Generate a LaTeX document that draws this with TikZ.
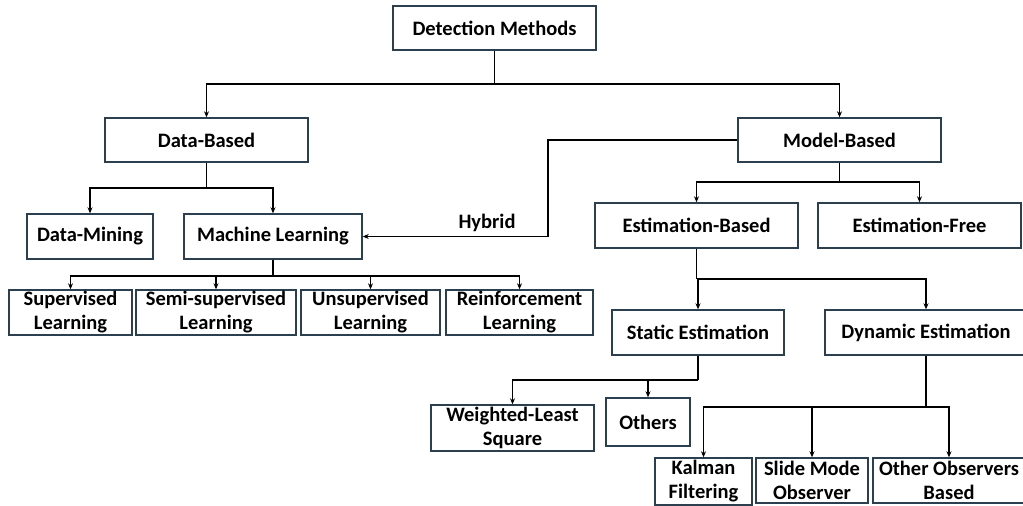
\documentclass[tikz,border=0pt]{standalone}
\usepackage{fontspec}
\setmainfont{Carlito}
\usetikzlibrary{arrows.meta}
\definecolor{boxline}{HTML}{2B3F4E}
\begin{document}
\begin{tikzpicture}[x=1pt,y=-1pt,
  lbl/.style={font=\fontsize{20.5}{24}\selectfont\bfseries},
  box/.style={lbl, draw=boxline, line width=1.4pt, fill=white, inner sep=0pt, align=center},
  conn/.style={line width=1.3pt, black},
  arr/.style={conn, -{Stealth[length=6pt,width=5pt]}}]
\useasboundingbox (0,0) rectangle (1023,506);
\fill[white] (0,0) rectangle (1023,506);
% boxes (center, width, height)
\node[box, minimum width=203pt, minimum height=44pt] (dm) at (494.5,28) {Detection Methods};
\node[box, minimum width=203pt, minimum height=44pt] (db) at (206.5,140) {Data-Based};
\node[box, minimum width=203pt, minimum height=44pt] (mb) at (839.5,140) {Model-Based};
\node[box, minimum width=126pt, minimum height=45pt] (dmin) at (90,236.5) {Data-Mining};
\node[box, minimum width=178pt, minimum height=45pt] (ml) at (273,236.5) {Machine Learning};
\node[box, minimum width=123pt, minimum height=45pt] (sl) at (70.5,312.5) {Supervised\\Learning};
\node[box, minimum width=160pt, minimum height=45pt] (ssl) at (216,312.5) {Semi-supervised\\Learning};
\node[box, minimum width=139pt, minimum height=45pt] (ul) at (370.5,312.5) {Unsupervised\\Learning};
\node[box, minimum width=147pt, minimum height=45pt] (rl) at (519.5,312.5) {Reinforcement\\Learning};
\node[box, minimum width=203pt, minimum height=45pt] (eb) at (696.5,225.5) {Estimation-Based};
\node[box, minimum width=203pt, minimum height=45pt] (ef) at (919.5,225.5) {Estimation-Free};
\node[box, minimum width=172pt, minimum height=45pt] (se) at (698,332.5) {Static Estimation};
\node[box, minimum width=202pt, minimum height=45pt] (de) at (926,332.5) {Dynamic Estimation};
\node[box, minimum width=163pt, minimum height=46pt] (wls) at (512.5,428) {Weighted-Least\\Square};
\node[box, minimum width=84pt, minimum height=48pt] (oth) at (648,422) {Others};
\node[box, minimum width=97pt, minimum height=47pt] (kf) at (703.5,481.5) {Kalman\\Filtering};
\node[box, minimum width=112pt, minimum height=45pt] (smo) at (812,480.5) {Slide Mode\\Observer};
\node[box, minimum width=152pt, minimum height=45pt] (oob) at (949,480.5) {Other Observers\\Based};
\node[lbl] (hy) at (487,223) {Hybrid};
% junctions
\coordinate (j0) at (494.5,84);
\coordinate (j1) at (206.5,188);
\coordinate (j2) at (273,276);
\coordinate (j3) at (839.5,182);
\coordinate (j4) at (696.5,279);
\coordinate (j5) at (698,380);
\coordinate (j6) at (926,407);
\coordinate (h1) at (548,190);
% connectors
\draw[conn] (dm.south) -- (j0);
\draw[arr] (j0) -| (db.north);
\draw[arr] (j0) -| (mb.north);
\draw[conn] (db.south) -- (j1);
\draw[arr] (j1) -| (dmin.north);
\draw[arr] (j1) -| (ml.north);
\draw[conn] (ml.south) -- (j2);
\draw[arr] (j2) -| (sl.north);
\draw[arr] (j2) -| (ssl.north);
\draw[arr] (j2) -| (ul.north);
\draw[arr] (j2) -| (rl.north);
\draw[arr] (mb.west) -| (h1) |- (ml.east);
\draw[conn] (mb.south) -- (j3);
\draw[arr] (j3) -| (eb.north);
\draw[arr] (j3) -| (ef.north);
\draw[conn] (eb.south) -- (j4);
\draw[arr] (j4) -| (se.north);
\draw[arr] (j4) -| (de.north);
\draw[conn] (se.south) -- (j5);
\draw[arr] (j5) -| (wls.north);
\draw[arr] (j5) -| (oth.north);
\draw[conn] (de.south) -- (j6);
\draw[arr] (j6) -| (kf.north);
\draw[arr] (j6) -| (smo.north);
\draw[arr] (j6) -| (oob.north);
\end{tikzpicture}
\end{document}
